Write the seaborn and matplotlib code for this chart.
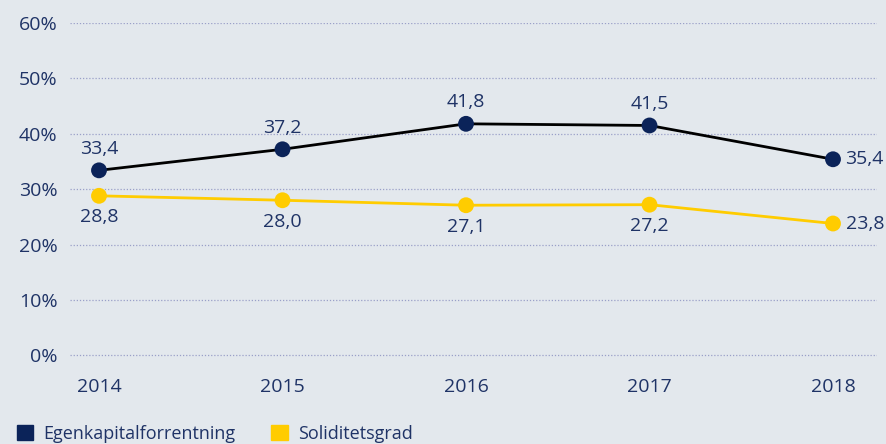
import matplotlib.pyplot as plt
import matplotlib.patches as mpatches
import pandas as pd
import seaborn as sns

years = [2014, 2015, 2016, 2017, 2018]
egenkapital = [33.4, 37.2, 41.8, 41.5, 35.4]
soliditet = [28.8, 28.0, 27.1, 27.2, 23.8]
series_names = ['Egenkapitalforrentning', 'Soliditetsgrad']
y_ticks = [0, 10, 20, 30, 40, 50, 60]

BG = '#e3e8ed'
NAVY = '#0b2359'
TEXT = '#1f3366'
YELLOW = '#ffcc00'
FS = 14

sns.set_theme(style='white')
plt.rcParams['font.family'] = ['Open Sans', 'DejaVu Sans']

df = pd.DataFrame({
    'year': years * 2,
    'value': egenkapital + soliditet,
    'series': [series_names[0]] * len(years) + [series_names[1]] * len(years),
})

fig = plt.figure(figsize=(8.87, 4.44), dpi=100, facecolor=BG)
ax = fig.add_axes([70 / 887, 1 - 357 / 444, 807 / 887, 334 / 444])
ax.set_facecolor(BG)

# lines (black for egenkapital, yellow for soliditet), markers on top
sns.lineplot(data=df, x='year', y='value', hue='series',
             palette={series_names[0]: 'black', series_names[1]: YELLOW},
             linewidth=2, legend=False, ax=ax, zorder=2)
sns.scatterplot(data=df, x='year', y='value', hue='series',
                palette={series_names[0]: NAVY, series_names[1]: YELLOW},
                s=130, linewidth=0, legend=False, ax=ax, zorder=3)

# value labels
for i, (x, v) in enumerate(zip(years, egenkapital)):
    txt = f'{v:.1f}'.replace('.', ',')
    if i == len(years) - 1:
        ax.annotate(txt, (x, v), xytext=(9, 0), textcoords='offset points',
                    ha='left', va='center', color=TEXT, fontsize=FS)
    else:
        ax.annotate(txt, (x, v), xytext=(0, 9), textcoords='offset points',
                    ha='center', va='bottom', color=TEXT, fontsize=FS)
for i, (x, v) in enumerate(zip(years, soliditet)):
    txt = f'{v:.1f}'.replace('.', ',')
    if i == len(years) - 1:
        ax.annotate(txt, (x, v), xytext=(9, 0), textcoords='offset points',
                    ha='left', va='center', color=TEXT, fontsize=FS)
    else:
        ax.annotate(txt, (x, v), xytext=(0, -9), textcoords='offset points',
                    ha='center', va='top', color=TEXT, fontsize=FS)

ax.set_xlim(2014 - 29 / 183.5, 2018 + 44 / 183.5)
ax.set_ylim(-0.3, 60)
ax.set_xticks(years)
ax.set_xticklabels([str(y) for y in years])
ax.set_yticks(y_ticks)
ax.set_yticklabels([f'{t}%' for t in y_ticks])
ax.tick_params(axis='both', length=0, labelsize=FS, labelcolor=TEXT)
ax.tick_params(axis='y', pad=9)
ax.tick_params(axis='x', pad=15)
ax.yaxis.grid(True, linestyle=(0, (1, 1.5)), color='#9aa0c8', linewidth=0.9)
ax.xaxis.grid(False)
ax.set_xlabel('')
ax.set_ylabel('')
for s in ax.spines.values():
    s.set_visible(False)

handles = [mpatches.Patch(color=NAVY, label=series_names[0]),
           mpatches.Patch(color=YELLOW, label=series_names[1])]
fig.legend(handles=handles, loc='lower left', bbox_to_anchor=(17 / 887, 1 / 444),
           ncol=2, frameon=False, fontsize=13, labelcolor=TEXT,
           handlelength=0.9, handleheight=0.9, handletextpad=0.55,
           columnspacing=2.0, borderaxespad=0.0, borderpad=0.0)

fig.savefig('out.png', dpi=100, facecolor=BG)
